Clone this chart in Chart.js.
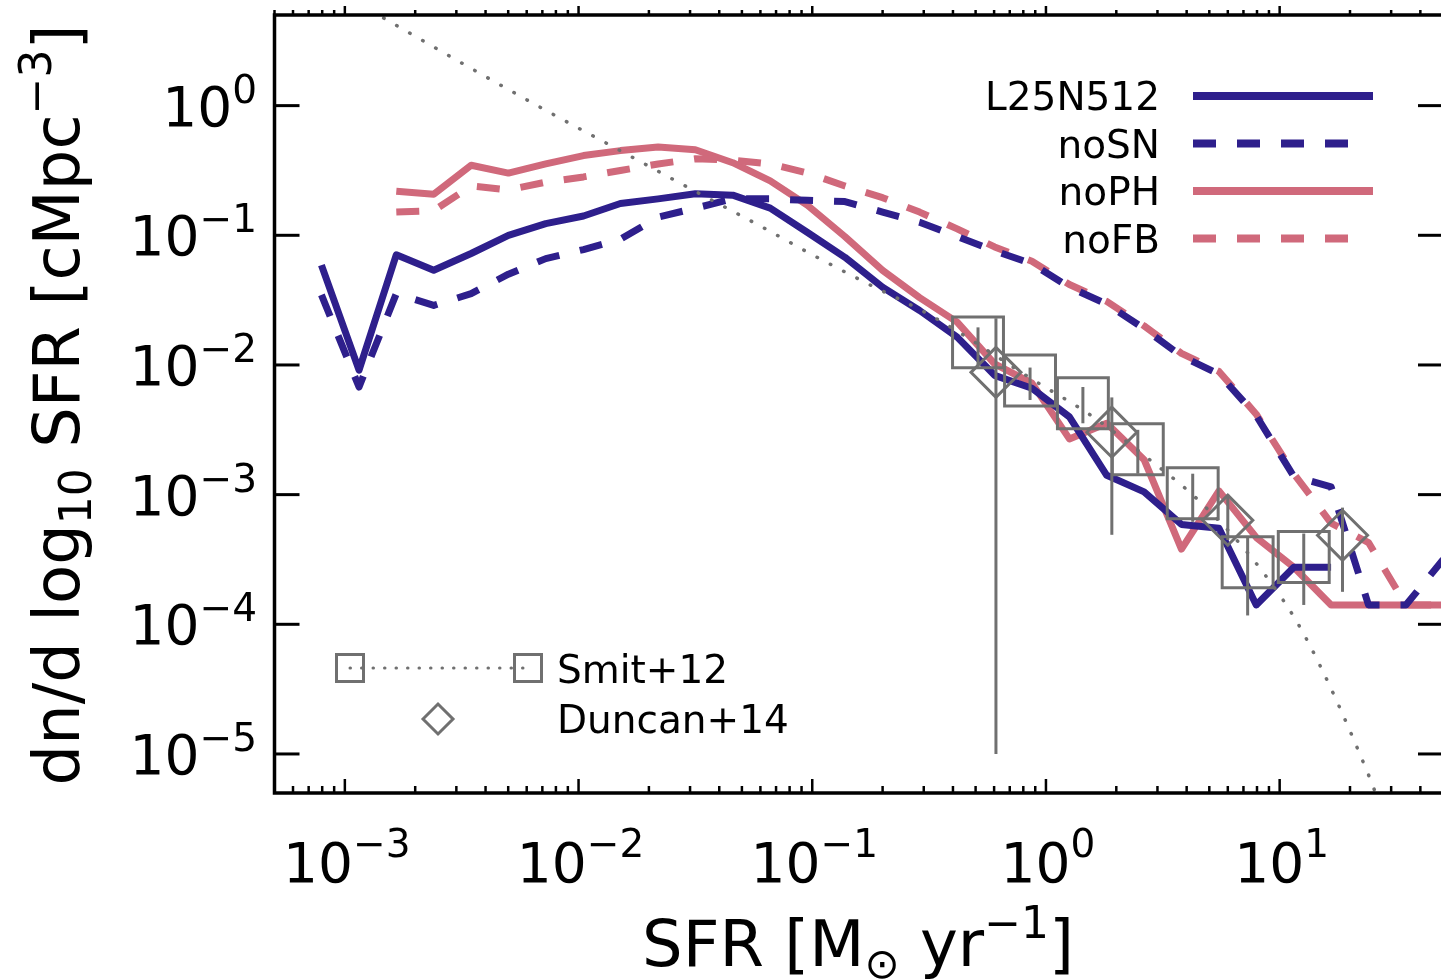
<!DOCTYPE html>
<html>
<head>
<meta charset="utf-8">
<title>SFR function</title>
<script src="https://cdn.jsdelivr.net/npm/chart.js@4.4.1/dist/chart.umd.min.js"></script>
<style>
  html, body { margin: 0; padding: 0; background: #fff; overflow: hidden; }
  #wrap { width: 1460px; height: 980px; }
</style>
</head>
<body>
<div id="wrap"><canvas id="sfrf" width="1460" height="980"></canvas></div>
<script>
// bin centres of the simulated SFR functions [Msun/yr]
const sfrBins = [7.94e-4, 1.15e-3, 1.66e-3, 2.40e-3, 3.47e-3, 5.01e-3, 7.24e-3, 1.05e-2, 1.51e-2, 2.19e-2,
                 3.16e-2, 4.57e-2, 6.61e-2, 9.55e-2, 0.138, 0.200, 0.288, 0.417, 0.603, 0.871,
                 1.26, 1.82, 2.63, 3.80, 5.50, 7.94, 11.5, 16.6, 24.0, 34.7, 50.1];

// dn/dlog10 SFR [cMpc^-3] for each run (null = no galaxies in bin)
const l25n512 = [0.0589, 0.00912, 0.0708, 0.0537, 0.0724, 0.100, 0.123, 0.141, 0.176, 0.191,
                 0.209, 0.204, 0.162, 0.105, 0.0676, 0.0398, 0.0263, 0.0164, 0.00832, 0.00661,
                 0.00398, 0.00141, 0.00105, 0.000589, 0.000550, 0.000141, 0.000275, 0.000275, null, null, null];
const noSN    = [0.0347, 0.00676, 0.0355, 0.0288, 0.0355, 0.0501, 0.0661, 0.0776, 0.0933, 0.138,
                 0.162, 0.191, 0.191, 0.186, 0.182, 0.151, 0.126, 0.0977, 0.0759, 0.0603,
                 0.0398, 0.0295, 0.0191, 0.0117, 0.00851, 0.00407, 0.00138, 0.00115, 0.000141, 0.000141, 0.000316];
const noPH    = [null, null, 0.219, 0.207, 0.347, 0.302, 0.355, 0.412, 0.450, 0.479,
                 0.457, 0.363, 0.263, 0.170, 0.0977, 0.0537, 0.0331, 0.0214, 0.0102, 0.00724,
                 0.00269, 0.00355, 0.00186, 0.000380, 0.00107, 0.000468, 0.000275, 0.000141, 0.000141, 0.000141, 0.000141];
const noFB    = [null, null, 0.151, 0.155, 0.240, 0.224, 0.257, 0.282, 0.316, 0.355,
                 0.389, 0.380, 0.355, 0.302, 0.240, 0.195, 0.151, 0.112, 0.0813, 0.0631,
                 0.0417, 0.0309, 0.0200, 0.0123, 0.00891, 0.00417, 0.00145, 0.000603, 0.000427, 0.000141, 0.000141];

// Smit+12 fit (dotted curve)
const smitFitSfr = [1.0e-3, 1.41e-3, 6.43e-3, 1.45e-2, 2.84e-2, 6.49e-2, 9.62e-2, 0.162, 0.332, 0.889,
                    1.556, 2.90, 4.59, 8.55, 12.9, 24.5, 26.3];
const smitFitPhi = [7.1, 4.93, 1.035, 0.467, 0.242, 0.109, 0.0736, 0.0449, 0.0233, 0.00760,
                    0.00409, 0.00175, 0.000873, 0.000248, 7.96e-5, 6.3e-6, 4.47e-6];

// Smit+12 data points with error range
const smitSfr = [0.512, 0.855, 1.439, 2.472, 4.246, 7.295, 12.68];
const smitPhi = [0.01493, 0.00760, 0.00506, 0.00224, 0.001026, 0.000301, 0.000330];
const smitLo  = [0.0100, 0.00537, 0.00355, 0.00145, 0.000617, 0.000117, 0.000141];
const smitHi  = [0.0195, 0.00955, 0.00676, 0.00316, 0.00145, 0.000468, 0.000501];

// Duncan+14 data points with error range
const duncanSfr = [0.611, 1.914, 6.0, 18.58];
const duncanPhi = [0.00877, 0.00303, 0.000635, 0.000486];
const duncanLo  = [1.0e-5, 0.00049, 0.000447, 0.000178];
const duncanHi  = [0.0229, 0.00562, 0.00100, 0.000794];

// axis tick decades
const xTickExp = [-3, -2, -1, 0, 1];
const yTickExp = [0, -1, -2, -3, -4, -5];

const BLUE = '#2e1f8c';
const PINK = '#d0697b';
const GREY = '#707070';
const FONT = '"DejaVu Sans", sans-serif';
const DASH = [23, 21];

function pts(xs, ys){
    let out = [];
    for(let i=0;i<xs.length;i++){
        if(ys[i] != null){
            out.push({x: xs[i], y: ys[i]});
        }
    }
    return out;
}

// draw a string made of parts [text, size, dy] (for super/subscripts)
function richText(ctx, parts, x, y, align){
    let w = 0;
    for(const p of parts){
        ctx.font = p[1] + 'px ' + FONT;
        w += ctx.measureText(p[0]).width;
    }
    let cx = x;
    if(align === 'right') cx = x - w;
    else if(align === 'center') cx = x - w / 2;
    ctx.textAlign = 'left';
    ctx.textBaseline = 'alphabetic';
    for(const p of parts){
        ctx.font = p[1] + 'px ' + FONT;
        ctx.fillText(p[0], cx, y + p[2]);
        cx += ctx.measureText(p[0]).width;
    }
}

function seg(ctx, x1, y1, x2, y2){
    ctx.beginPath();
    ctx.moveTo(x1, y1);
    ctx.lineTo(x2, y2);
    ctx.stroke();
}

function sup(e){
    return e < 0 ? '\u2212' + Math.abs(e) : String(e);
}

const errorBars = {
    id: 'errorBars',
    afterDatasetsDraw(chart){
        const ctx = chart.ctx;
        const xs = chart.scales.x, ys = chart.scales.y;
        ctx.save();
        ctx.strokeStyle = GREY;
        ctx.lineWidth = 3;
        for(let i=0;i<smitSfr.length;i++){
            const px = xs.getPixelForValue(smitSfr[i]);
            seg(ctx, px, ys.getPixelForValue(smitLo[i]), px, ys.getPixelForValue(smitHi[i]));
        }
        for(let i=0;i<duncanSfr.length;i++){
            const px = xs.getPixelForValue(duncanSfr[i]);
            seg(ctx, px, ys.getPixelForValue(duncanLo[i]), px, ys.getPixelForValue(duncanHi[i]));
        }
        ctx.restore();
    }
};

const frameAndText = {
    id: 'frameAndText',
    beforeDraw(chart){
        const ctx = chart.ctx;
        ctx.save();
        ctx.fillStyle = '#fff';
        ctx.fillRect(0, 0, chart.width, chart.height);
        ctx.restore();
    },
    afterDraw(chart){
        const ctx = chart.ctx;
        const a = chart.chartArea;
        const xs = chart.scales.x, ys = chart.scales.y;
        ctx.save();
        ctx.strokeStyle = '#000';
        ctx.fillStyle = '#000';
        ctx.lineCap = 'butt';

        // frame
        ctx.lineWidth = 3.5;
        ctx.strokeRect(a.left, a.top, a.right - a.left, a.bottom - a.top);

        // y ticks, inward on both sides
        ctx.lineWidth = 3;
        for(const e of yTickExp){
            const py = ys.getPixelForValue(Math.pow(10, e));
            seg(ctx, a.left, py, a.left + 25, py);
            seg(ctx, a.right, py, a.right - 25, py);
            richText(ctx, [['10', 55, 0], [sup(e), 39, -23]], 257, py + 20, 'right');
        }

        // x ticks: majors + log minors
        ctx.lineWidth = 2.5;
        for(let e=-4;e<=1;e++){
            for(let m=1;m<=9;m++){
                const v = m * Math.pow(10, e);
                if(v < xs.min || v > xs.max) continue;
                const px = xs.getPixelForValue(v);
                seg(ctx, px, a.bottom, px, a.bottom - (m === 1 ? 14 : 7));
                seg(ctx, px, a.top, px, a.top - (m === 1 ? 9 : 5));
            }
        }
        for(const e of xTickExp){
            const px = xs.getPixelForValue(Math.pow(10, e));
            richText(ctx, [['10', 55, 0], [sup(e), 39, -25]], px + 2, 882, 'center');
        }

        // axis titles
        richText(ctx, [['SFR [M', 64, 0], ['\u2299', 42, 12], [' yr', 64, 0], ['\u22121', 44, -28], [']', 64, 0]],
                 858, 966, 'center');
        ctx.save();
        ctx.translate(79, 405);
        ctx.rotate(-Math.PI / 2);
        richText(ctx, [['dn/d log', 64, 0], ['10', 44, 12], [' SFR [cMpc', 64, 0], ['\u22123', 44, -28], [']', 64, 0]],
                 0, 0, 'center');
        ctx.restore();

        // model legend (top right)
        const rows = [['L25N512', BLUE, false, 96], ['noSN', BLUE, true, 143.5],
                      ['noPH', PINK, false, 191], ['noFB', PINK, true, 238.5]];
        for(const r of rows){
            richText(ctx, [[r[0], 39, 0]], 1160, r[3] + 14, 'right');
            ctx.strokeStyle = r[1];
            ctx.lineWidth = 8;
            ctx.setLineDash(r[2] ? DASH : []);
            seg(ctx, 1193, r[3], r[2] ? 1350 : 1373, r[3]);
        }
        ctx.setLineDash([]);

        // observation legend (bottom left)
        ctx.strokeStyle = GREY;
        ctx.lineWidth = 3;
        ctx.lineCap = 'round';
        ctx.setLineDash([0.5, 11]);
        seg(ctx, 350, 668, 528, 668);
        ctx.setLineDash([]);
        ctx.lineCap = 'butt';
        ctx.strokeRect(350 - 13.5, 668 - 13.5, 27, 27);
        ctx.strokeRect(528 - 13.5, 668 - 13.5, 27, 27);
        ctx.beginPath();
        ctx.moveTo(438 - 15, 719);
        ctx.lineTo(438, 719 - 15);
        ctx.lineTo(438 + 15, 719);
        ctx.lineTo(438, 719 + 15);
        ctx.closePath();
        ctx.stroke();
        ctx.fillStyle = '#000';
        richText(ctx, [['Smit+12', 39, 0]], 557, 683, 'left');
        richText(ctx, [['Duncan+14', 39, 0]], 557, 733, 'left');
        ctx.restore();
    }
};

function modelLine(label, xs, ys, color, dashed, order){
    return {
        label: label,
        data: pts(xs, ys),
        showLine: true,
        borderColor: color,
        borderWidth: 7,
        borderDash: dashed ? DASH : [],
        borderJoinStyle: 'round',
        tension: 0,
        pointRadius: 0,
        order: order
    };
}

const datasets = [
    {
        label: 'Smit+12',
        data: pts(smitSfr, smitPhi),
        showLine: false,
        pointStyle: 'rect',
        pointRadius: 36,
        pointBorderWidth: 3,
        pointBorderColor: GREY,
        pointBackgroundColor: 'rgba(0,0,0,0)',
        order: 0
    },
    {
        label: 'Duncan+14',
        data: pts(duncanSfr, duncanPhi),
        showLine: false,
        pointStyle: 'rectRot',
        pointRadius: 25,
        pointBorderWidth: 3,
        pointBorderColor: GREY,
        pointBackgroundColor: 'rgba(0,0,0,0)',
        order: 0
    },
    {
        label: 'Smit+12 fit',
        data: pts(smitFitSfr, smitFitPhi),
        showLine: true,
        borderColor: GREY,
        borderWidth: 3.5,
        borderDash: [0.5, 14.5],
        borderCapStyle: 'round',
        cubicInterpolationMode: 'monotone',
        pointRadius: 0,
        order: 1
    },
    modelLine('noSN', sfrBins, noSN, BLUE, true, 2),
    modelLine('L25N512', sfrBins, l25n512, BLUE, false, 3),
    modelLine('noFB', sfrBins, noFB, PINK, true, 4),
    modelLine('noPH', sfrBins, noPH, PINK, false, 5)
];

new Chart(document.getElementById('sfrf'), {
    type: 'scatter',
    data: { datasets: datasets },
    options: {
        responsive: false,
        animation: false,
        events: [],
        layout: {
            autoPadding: false,
            padding: { left: 274.5, top: 15, right: 17, bottom: 187 }
        },
        scales: {
            x: { type: 'logarithmic', min: 5e-4, max: 50, display: false },
            y: { type: 'logarithmic', min: 5e-6, max: 5, display: false }
        },
        plugins: {
            legend: { display: false },
            tooltip: { enabled: false }
        }
    },
    plugins: [errorBars, frameAndText]
});
</script>
</body>
</html>
